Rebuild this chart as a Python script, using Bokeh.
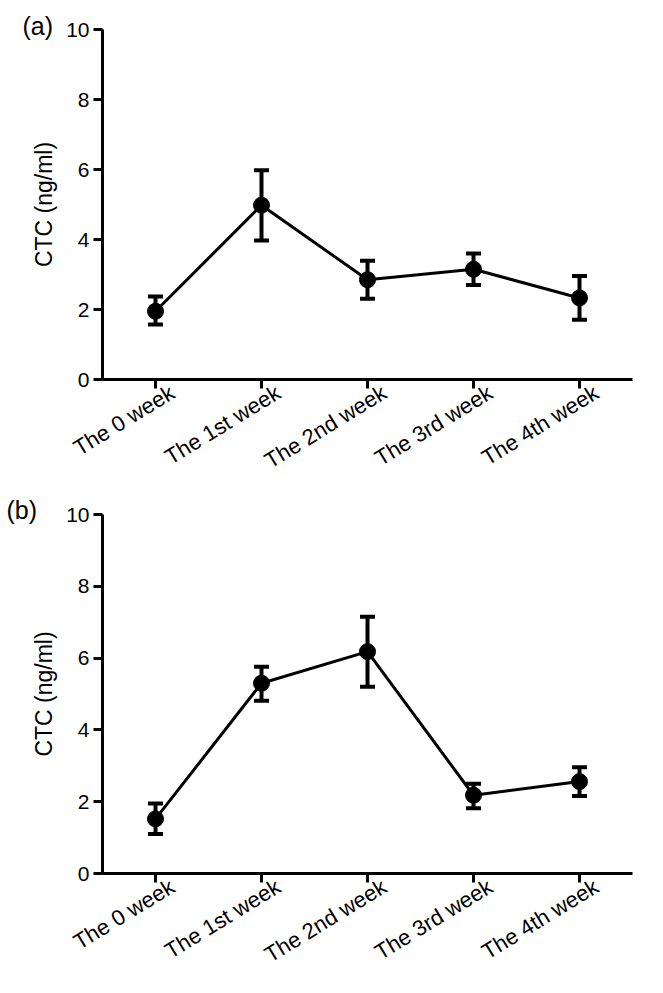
from bokeh.plotting import figure
from bokeh.models import (ColumnDataSource, Whisker, TeeHead, Range1d, FixedTicker, Title,
                          LinearAxis)
from bokeh.layouts import column
from bokeh.embed import file_html
from bokeh.resources import INLINE

weeks = ["The 0 week", "The 1st week", "The 2nd week", "The 3rd week", "The 4th week"]

a_mean = [1.95, 4.98, 2.85, 3.15, 2.33]
a_upper = [2.37, 5.98, 3.39, 3.60, 2.96]
a_lower = [1.57, 3.97, 2.31, 2.70, 1.71]

b_mean = [1.52, 5.30, 6.18, 2.18, 2.56]
b_upper = [1.95, 5.76, 7.15, 2.50, 2.96]
b_lower = [1.10, 4.81, 5.20, 1.82, 2.16]

y_ticks = [0, 2, 4, 6, 8, 10]

FONT = "Liberation Sans"
LABEL_SHIFT = 0.16  # label offset to the right of each tick, in category widths


def make_panel(tag, mean, upper, lower, width, height, left, top, right, bottom,
               tag_offset, tag_standoff):
    xs = [i + 0.5 for i in range(len(weeks))]
    src = ColumnDataSource(dict(x=xs, mean=mean, upper=upper, lower=lower))
    p = figure(x_range=Range1d(0, len(weeks)), y_range=Range1d(0, 10),
               width=width, height=height, output_backend="svg", toolbar_location=None,
               min_border_left=left, min_border_top=top, min_border_right=right,
               min_border_bottom=bottom)
    p.outline_line_color = None
    p.grid.grid_line_color = None
    p.background_fill_color = "white"
    p.border_fill_color = "white"

    p.line(x="x", y="mean", source=src, line_color="black", line_width=3)
    w = Whisker(base="x", upper="upper", lower="lower", source=src, dimension="height",
                line_color="black", line_width=4,
                upper_head=TeeHead(size=15, line_width=4, line_color="black"),
                lower_head=TeeHead(size=15, line_width=4, line_color="black"))
    p.add_layout(w)
    p.scatter(x="x", y="mean", source=src, size=16, color="black")

    for ax in (p.xaxis[0], p.yaxis[0]):
        ax.axis_line_width = 3
        ax.axis_line_color = "black"
        ax.major_tick_line_width = 3
        ax.major_tick_line_color = "black"
        ax.major_tick_in = 0
        ax.major_tick_out = 9
        ax.minor_tick_line_color = None
        ax.major_label_text_font = FONT
        ax.major_label_text_font_size = "21px"
        ax.major_label_text_color = "black"

    p.xaxis.ticker = FixedTicker(ticks=xs)
    p.xaxis.major_label_overrides = {x: "" for x in xs}
    p.xaxis.major_label_standoff = 0

    shifted = [x + LABEL_SHIFT for x in xs]
    lab_ax = LinearAxis(ticker=FixedTicker(ticks=shifted),
                        major_label_overrides={s: wk for s, wk in zip(shifted, weeks)},
                        axis_line_color=None, major_tick_line_color=None,
                        minor_tick_line_color=None, major_tick_in=0, major_tick_out=0,
                        major_label_standoff=2, major_label_orientation=0.55,
                        major_label_text_font=FONT, major_label_text_font_size="22px",
                        major_label_text_color="black")
    p.add_layout(lab_ax, "below")

    p.yaxis.ticker = FixedTicker(ticks=y_ticks)
    p.yaxis.axis_label = "CTC (ng/ml)"
    p.yaxis.axis_label_text_font = FONT
    p.yaxis.axis_label_text_font_style = "normal"
    p.yaxis.axis_label_text_font_size = "23px"
    p.yaxis.axis_label_text_color = "black"
    p.yaxis.axis_label_standoff = 6
    p.yaxis.major_label_standoff = 4

    p.add_layout(Title(text=tag, align="left", offset=tag_offset, standoff=tag_standoff,
                       text_font=FONT, text_font_size="25px", text_font_style="normal",
                       text_color="black", vertical_align="bottom"), "above")
    return p


pa = make_panel("(a)", a_mean, a_upper, a_lower, width=655, height=496,
                left=102, top=29, right=23, bottom=117, tag_offset=-80, tag_standoff=-20)
pb = make_panel("(b)", b_mean, b_upper, b_lower, width=655, height=496,
                left=94, top=18, right=21, bottom=119, tag_offset=-96, tag_standoff=-18)

layout = column(pa, pb, spacing=0)
open("out.html", "w").write(file_html(layout, INLINE))
